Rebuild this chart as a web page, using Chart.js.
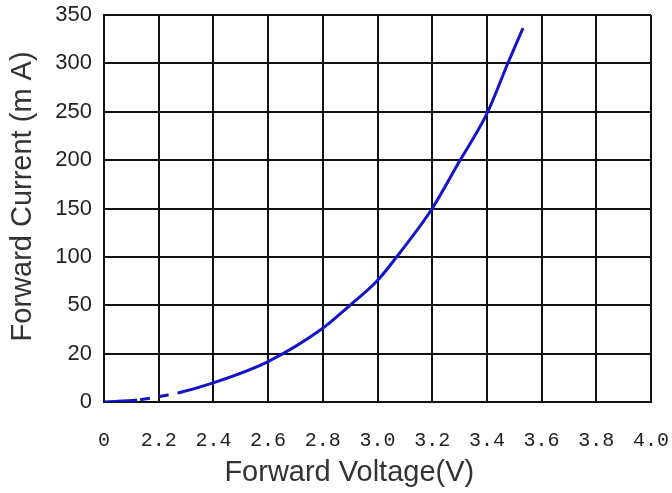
<!DOCTYPE html>
<html>
<head>
<meta charset="utf-8">
<script src="https://cdn.jsdelivr.net/npm/chart.js@4"></script>
<style>
  html, body { margin: 0; padding: 0; background: #ffffff; }
  #wrap { width: 672px; height: 493px; position: relative; }
</style>
</head>
<body>
<div id="wrap"><canvas id="c" width="672" height="493"></canvas></div>
<script>
// ---- data ----
const voltage = [2.00, 2.121, 2.234, 2.27, 2.399, 2.596, 2.801, 2.892, 2.998, 3.064, 3.20, 3.298, 3.40, 3.477, 3.532];
const currentMA = [0, 0.8, 2.9, 3.7, 7.9, 16.5, 35.9, 48.9, 75, 97.8, 150, 198, 248, 300.4, 336.5];
const dashedFromV = 2.121;
const dashedUntilV = 2.27;

// axis tick labels (y axis is an evenly spaced, non-linear scale)
const yTickValues = [0, 20, 50, 100, 150, 200, 250, 300, 350];
const yTickLabels = ['0', '20', '50', '100', '150', '200', '250', '300', '350'];
const xTickLabels = ['0', '2.2', '2.4', '2.6', '2.8', '3.0', '3.2', '3.4', '3.6', '3.8', '4.0'];

// map current (mA) to its position on the evenly spaced grid
function gridPos(mA) {
  for (let i = 0; i < yTickValues.length - 1; i++) {
    const a = yTickValues[i], b = yTickValues[i + 1];
    if (mA <= b) return i + (mA - a) / (b - a);
  }
  return yTickValues.length - 1;
}

const points = voltage.map((v, i) => ({ x: v, y: gridPos(currentMA[i]) }));
const inDash = ctx => ctx.p0.parsed.x >= dashedFromV - 1e-9 && ctx.p1.parsed.x <= dashedUntilV + 1e-9;

new Chart(document.getElementById('c'), {
  type: 'line',
  data: {
    datasets: [{
      data: points,
      borderColor: '#1414c8',
      borderWidth: 3,
      pointRadius: 0,
      cubicInterpolationMode: 'monotone',
      fill: false,
      segment: {
        borderDash: ctx => inDash(ctx) ? [10, 9] : undefined,
        borderDashOffset: ctx => inDash(ctx) ? 16 : undefined
      }
    }]
  },
  options: {
    responsive: false,
    animation: false,
    devicePixelRatio: 1,
    layout: { padding: { left: 0, top: 15, right: 21, bottom: 0 } },
    plugins: { legend: { display: false }, tooltip: { enabled: false } },
    scales: {
      x: {
        type: 'linear',
        min: 2.0,
        max: 4.0,
        afterFit: s => { s.height = 91; s.paddingLeft = 0; s.paddingRight = 0; },
        afterBuildTicks: s => {
          s.ticks = xTickLabels.map((_, i) => ({ value: 2.0 + i * 0.2 }));
        },
        ticks: {
          autoSkip: false,
          maxRotation: 0,
          padding: 27,
          color: '#222',
          font: { family: 'Liberation Mono', size: 20 },
          callback: (v) => xTickLabels[Math.round((v - 2.0) / 0.2)]
        },
        grid: { color: '#111', lineWidth: 2, drawTicks: false },
        border: { color: '#111', width: 2 },
        title: {
          display: true,
          text: 'Forward Voltage(V)       ',
          color: '#333',
          font: { family: 'Liberation Sans', size: 29 },
          padding: { top: 0, bottom: 3 }
        }
      },
      y: {
        type: 'linear',
        min: 0,
        max: yTickLabels.length - 1,
        afterFit: s => { s.width = 104; s.paddingTop = 0; s.paddingBottom = 0; },
        afterBuildTicks: s => {
          s.ticks = yTickLabels.map((_, i) => ({ value: i }));
        },
        ticks: {
          autoSkip: false,
          padding: 12,
          color: '#222',
          font: { family: 'Liberation Sans', size: 22 },
          callback: (v) => yTickLabels[Math.round(v)]
        },
        grid: { color: '#111', lineWidth: 2, drawTicks: false },
        border: { color: '#111', width: 2 },
        title: {
          display: true,
          text: '   Forward Current (m A)',
          color: '#333',
          font: { family: 'Liberation Sans', size: 29 },
          padding: { top: 6, bottom: 0 }
        }
      }
    }
  }
});
</script>
</body>
</html>
